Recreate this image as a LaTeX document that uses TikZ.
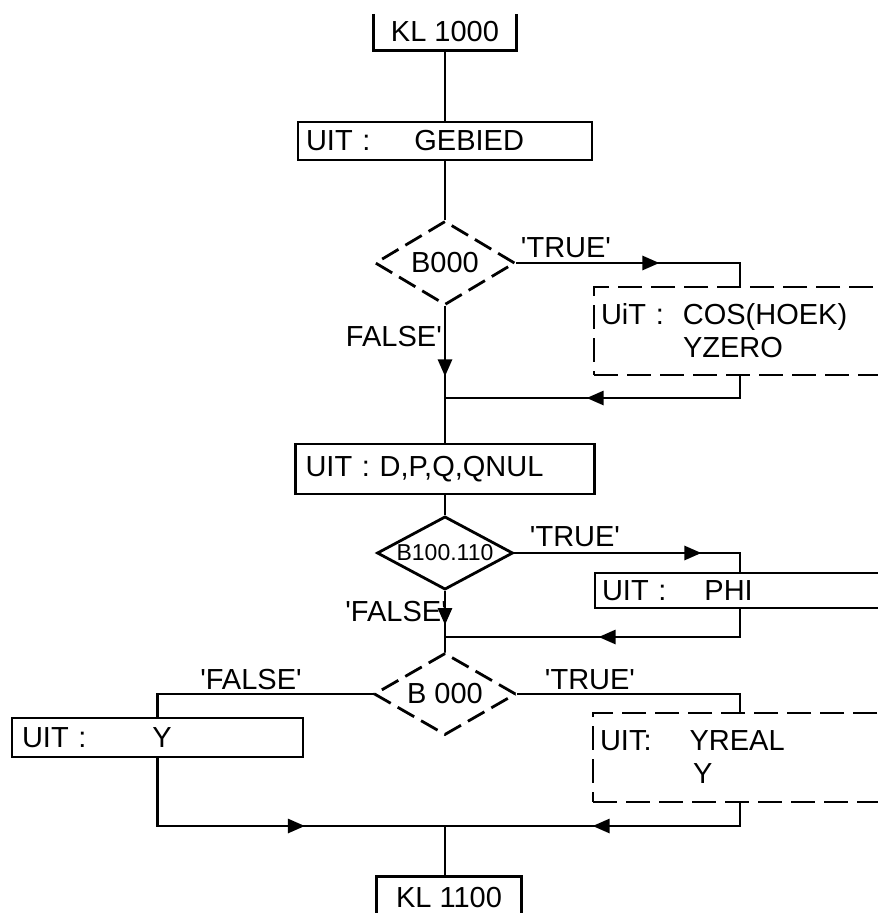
\documentclass[tikz,border=0pt]{standalone}
\usepackage{fontspec}
\setmainfont{Liberation Sans}
\usetikzlibrary{shapes.geometric, arrows.meta, decorations.markings}
\tikzstyle{lijn} = [line width=2.8pt]
\tikzstyle{klbox} = [rectangle, inner sep=0pt, text centered]
\tikzstyle{uitbox} = [rectangle, draw=black, line width=2.8pt, inner xsep=8pt, inner ysep=0pt, align=left]
\tikzstyle{uitdash} = [uitbox, dash pattern=on 24pt off 9pt]
\tikzstyle{keuze} = [diamond, draw=black, line width=2.8pt, inner sep=0pt, aspect=1.7]
\tikzstyle{keuzedash} = [keuze, dash pattern=on 19pt off 8pt]
\tikzset{pijl/.style={postaction={decorate}, decoration={markings, mark=at position #1 with {\arrow{Triangle[length=17pt,width=14pt]}}}}}
\newcommand{\kw}[1]{\textquotesingle#1\textquotesingle}

\begin{document}
\begin{tikzpicture}[x=1pt, y=-1pt, font=\fontsize{29}{33}\selectfont]
    \useasboundingbox (0,0) rectangle (878,913);

    \node (kl1000) [klbox, minimum width=142pt, minimum height=36pt] at (445,32) {KL 1000};
    \node (gebied) [uitbox, text width=278pt, minimum height=38pt] at (445,141) {UIT :\hspace{44pt}GEBIED};
    \node (dec1) [keuzedash, minimum width=140pt, minimum height=84pt] at (445,263) {B000};
    \node (tbox1) [uitdash, text width=296pt, minimum height=88pt, inner xsep=7pt] at (749,331) {UiT :\hspace{19pt}COS(HOEK)\\\hspace*{82pt}YZERO};
    \node (qnul) [uitbox, text width=279pt, minimum height=50pt, inner xsep=10pt] at (445,469) {UIT : D,P,Q,QNUL};
    \node (dec2) [keuze, minimum width=136pt, minimum height=72pt, font=\fontsize{23}{26}\selectfont] at (445,553) {B100.110};
    \node (phi) [uitbox, text width=296pt, minimum height=35pt, inner xsep=7pt] at (750,590.5) {UIT :\hspace{38pt}PHI};
    \node (dec3) [keuzedash, minimum width=142pt, minimum height=82pt] at (445,694) {B 000};
    \node (ybox) [uitbox, text width=271pt, minimum height=39pt, inner xsep=10pt] at (157.5,737.5) {UIT :\hspace{66pt}Y};
    \node (yreal) [uitdash, text width=298pt, minimum height=89pt, inner xsep=7pt] at (749,757.5) {UIT:\hspace{38pt}YREAL\\\hspace*{93pt}Y};
    \node (kl1100) [klbox, minimum width=145pt, minimum height=42pt] at (449,898) {KL 1100};

    % labels
    \node (w1) at (566,248) {\kw{TRUE}};
    \node (f1) [anchor=east, inner xsep=1pt] at (443,337) {FALSE\textquotesingle};
    \node (w2) at (575,537) {\kw{TRUE}};
    \node (f2) [anchor=east, inner xsep=0pt] at (447,612) {\kw{FALSE}};
    \node (f3) at (251,680) {\kw{FALSE}};
    \node (w3) at (590,680) {\kw{TRUE}};

    \coordinate (rk) at (740,0);
    \coordinate (j1) at (445,398);
    \coordinate (j2) at (445,637);
    \coordinate (j3) at (445,826);

    \draw[lijn] (kl1000.north west) -- (kl1000.south west) -- (kl1000.south east) -- (kl1000.north east);
    \draw[lijn] (kl1100.south west) -- (kl1100.north west) -- (kl1100.north east) -- (kl1100.south east);

    \draw[lijn] (kl1000.south) -- (gebied);
    \draw[lijn] (gebied) -- (dec1);
    \draw[lijn, pijl=143pt] (dec1.east) -- (dec1.east -| rk) -- (tbox1.north -| rk);
    \draw[lijn, pijl=70pt] (dec1) -- (qnul);
    \draw[lijn, pijl=175pt] (tbox1.south -| rk) -- (j1 -| rk) -- (j1);
    \draw[lijn] (qnul) -- (dec2);
    \draw[lijn, pijl=187pt] (dec2.east) -- (dec2.east -| rk) -- (phi.north -| rk);
    \draw[lijn, pijl=34pt] (dec2) -- (dec3);
    \draw[lijn, pijl=169pt] (phi.south -| rk) -- (j2 -| rk) -- (j2);
    \draw[lijn] (dec3.west) -- (dec3.west -| ybox) -- (ybox.north);
    \draw[lijn] (dec3.east) -- (dec3.east -| rk) -- (yreal.north -| rk);
    \draw[lijn, pijl=215pt] (ybox.south) -- (ybox.south |- j3) -- (j3);
    \draw[lijn, pijl=170pt] (yreal.south -| rk) -- (j3 -| rk) -- (j3);
    \draw[lijn] (j3) -- (j3 |- kl1100.north);

\end{tikzpicture}
\end{document}
